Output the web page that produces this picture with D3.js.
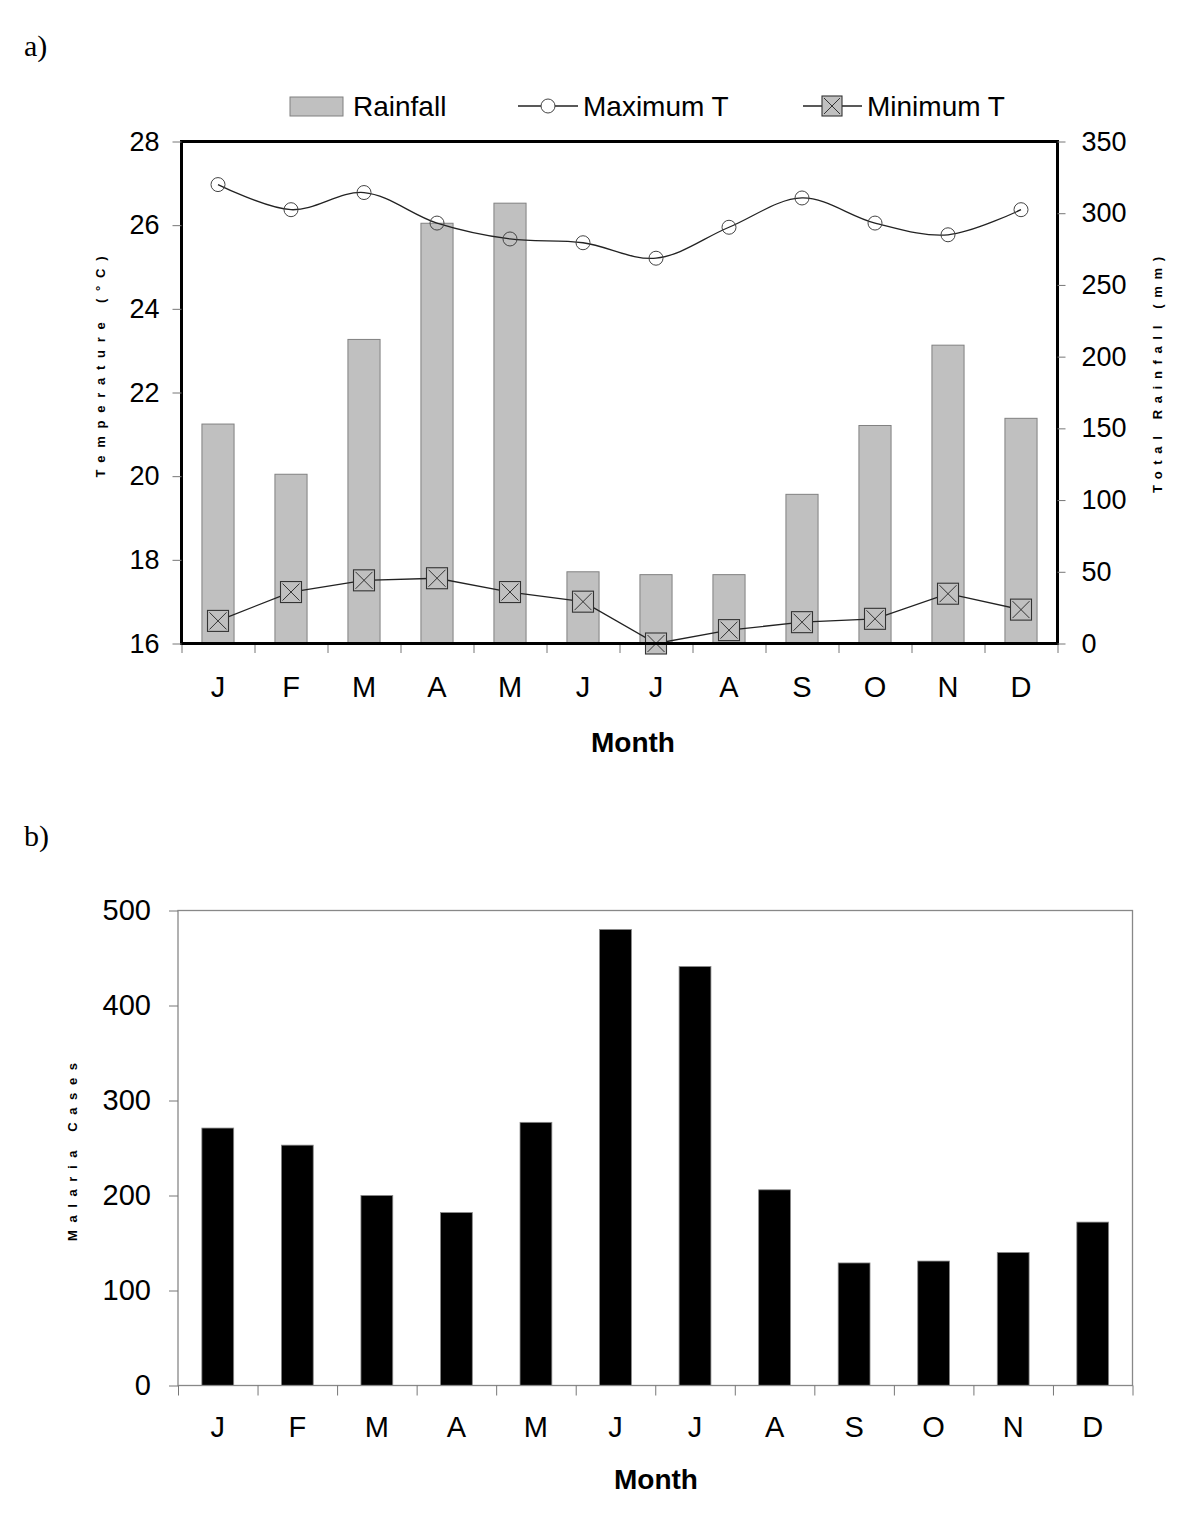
<!DOCTYPE html>
<html>
<head>
<meta charset="utf-8">
<script src="https://cdn.jsdelivr.net/npm/d3@7"></script>
<style>
  body { margin: 0; background: #fff; }
  svg { display: block; }
  text { font-family: "Liberation Sans", Arial, sans-serif; fill: #000; }
</style>
</head>
<body>
<div id="chart"></div>
<script>
// month labels (index-based domain because letters repeat)
const months = ['J', 'F', 'M', 'A', 'M', 'J', 'J', 'A', 'S', 'O', 'N', 'D'];

// panel a) climate
const rainfall = [153, 118, 212, 293, 307, 50, 48, 48, 104, 152, 208, 157];
const maxTemp = [26.97, 26.37, 26.78, 26.05, 25.67, 25.58, 25.21, 25.95, 26.65, 26.05, 25.77, 26.37];
const minTemp = [16.54, 17.23, 17.51, 17.56, 17.23, 17.0, 16.0, 16.32, 16.51, 16.59, 17.19, 16.81];
const tempTicks = [16, 18, 20, 22, 24, 26, 28];
const rainTicks = [0, 50, 100, 150, 200, 250, 300, 350];

// panel b) malaria
const malariaCases = [271, 253, 200, 182, 277, 480, 441, 206, 129, 131, 140, 172];
const caseTicks = [0, 100, 200, 300, 400, 500];

const W = 1200, H = 1514;
const idx = d3.range(months.length);

const svg = d3.select('#chart').append('svg')
  .attr('width', W)
  .attr('height', H);

// ---------- panel a ----------
const a = { left: 181.5, right: 1057.5, top: 141.5, bottom: 643.5 };

const xA = d3.scaleBand().domain(idx).range([a.left, a.right])
  .paddingInner(0.56).paddingOuter(0.28);
const xAEdge = d3.scaleLinear().domain([0, 12]).range([a.left, a.right]);
const yTemp = d3.scaleLinear().domain([16, 28]).range([a.bottom, a.top]);
const yRain = d3.scaleLinear().domain([0, 350]).range([a.bottom, a.top]);

svg.append('text')
  .attr('x', 24).attr('y', 56)
  .style('font-family', '"Liberation Serif", "Times New Roman", serif')
  .style('font-size', '30px')
  .text('a)');

const gA = svg.append('g').attr('class', 'panel-a');

gA.append('g')
  .selectAll('rect')
  .data(rainfall)
  .join('rect')
  .attr('x', (d, i) => xA(i))
  .attr('width', xA.bandwidth())
  .attr('y', d => yRain(d))
  .attr('height', d => yRain(0) - yRain(d))
  .attr('fill', '#c0c0c0')
  .attr('stroke', '#808080')
  .attr('stroke-width', 1);

const cx = i => xA(i) + xA.bandwidth() / 2;

// max temperature: smoothed line with open circles
const maxLine = d3.line()
  .curve(d3.curveCatmullRom.alpha(0.5))
  .x((d, i) => cx(i))
  .y(d => yTemp(d));

gA.append('path')
  .datum(maxTemp)
  .attr('d', maxLine)
  .attr('fill', 'none')
  .attr('stroke', '#222')
  .attr('stroke-width', 1.3);

gA.append('g')
  .selectAll('circle')
  .data(maxTemp)
  .join('circle')
  .attr('cx', (d, i) => cx(i))
  .attr('cy', d => yTemp(d))
  .attr('r', 7)
  .attr('fill', 'none')
  .attr('stroke', '#444')
  .attr('stroke-width', 1);

// min temperature: straight line with boxed crosses
const minLine = d3.line()
  .x((d, i) => cx(i))
  .y(d => yTemp(d));

gA.append('path')
  .datum(minTemp)
  .attr('d', minLine)
  .attr('fill', 'none')
  .attr('stroke', '#222')
  .attr('stroke-width', 1.3);

function boxCross(g, x, y, s) {
  const h = s / 2;
  g.append('rect')
    .attr('x', x - h).attr('y', y - h)
    .attr('width', s).attr('height', s)
    .attr('fill', '#c0c0c0')
    .attr('stroke', '#333')
    .attr('stroke-width', 1.1);
  const k = h - 2;
  g.append('path')
    .attr('d', `M${x - k},${y - k}L${x + k},${y + k}M${x + k},${y - k}L${x - k},${y + k}`)
    .attr('stroke', '#333')
    .attr('stroke-width', 1);
}

const minMarks = gA.append('g');
minTemp.forEach((d, i) => boxCross(minMarks, cx(i), yTemp(d), 21));

// frame
gA.append('rect')
  .attr('x', a.left).attr('y', a.top)
  .attr('width', a.right - a.left)
  .attr('height', a.bottom - a.top)
  .attr('fill', 'none')
  .attr('stroke', '#000')
  .attr('stroke-width', 3);

function styleAxis(g, size) {
  g.select('.domain').remove();
  g.selectAll('.tick line').attr('stroke', '#777').attr('stroke-width', 1);
  g.selectAll('.tick text')
    .style('font-size', size + 'px')
    .style('font-family', '"Liberation Sans", Arial, sans-serif')
    .attr('fill', '#000');
}

gA.append('g')
  .attr('transform', `translate(${a.left},0)`)
  .call(d3.axisLeft(yTemp).tickValues(tempTicks).tickSize(9).tickPadding(13))
  .call(g => styleAxis(g, 27));

gA.append('g')
  .attr('transform', `translate(${a.right},0)`)
  .call(d3.axisRight(yRain).tickValues(rainTicks).tickSize(8).tickPadding(16))
  .call(g => styleAxis(g, 27));

gA.append('g')
  .attr('transform', `translate(0,${a.bottom + 1.5})`)
  .call(d3.axisBottom(xAEdge).tickValues(d3.range(13)).tickFormat('').tickSize(8))
  .call(g => styleAxis(g, 27));

gA.append('g')
  .attr('transform', `translate(0,${a.bottom})`)
  .call(d3.axisBottom(xA).tickFormat(i => months[i]).tickSize(0).tickPadding(33))
  .call(g => styleAxis(g, 29));

gA.append('text')
  .attr('x', 633).attr('y', 752)
  .attr('text-anchor', 'middle')
  .style('font-size', '28px')
  .style('font-weight', 'bold')
  .text('Month');

gA.append('text')
  .attr('transform', 'translate(105,367) rotate(-90)')
  .attr('text-anchor', 'middle')
  .attr('textLength', 221)
  .attr('lengthAdjust', 'spacing')
  .style('font-size', '13px')
  .style('font-weight', 'bold')
  .text('Temperature (°C)');

gA.append('text')
  .attr('transform', 'translate(1162,375) rotate(-90)')
  .attr('text-anchor', 'middle')
  .attr('textLength', 236)
  .attr('lengthAdjust', 'spacing')
  .style('font-size', '13px')
  .style('font-weight', 'bold')
  .text('Total Rainfall (mm)');

// legend
const leg = gA.append('g').attr('class', 'legend');
leg.append('rect')
  .attr('x', 290).attr('y', 97).attr('width', 53).attr('height', 19)
  .attr('fill', '#c0c0c0').attr('stroke', '#808080');
leg.append('text').attr('x', 353).attr('y', 116).style('font-size', '28px').text('Rainfall');

leg.append('line')
  .attr('x1', 518).attr('x2', 578).attr('y1', 106).attr('y2', 106)
  .attr('stroke', '#222').attr('stroke-width', 1.3);
leg.append('circle')
  .attr('cx', 548).attr('cy', 106).attr('r', 7)
  .attr('fill', '#fff').attr('stroke', '#444');
leg.append('text').attr('x', 583).attr('y', 116).style('font-size', '28px').text('Maximum T');

leg.append('line')
  .attr('x1', 803).attr('x2', 862).attr('y1', 106).attr('y2', 106)
  .attr('stroke', '#222').attr('stroke-width', 1.3);
boxCross(leg, 832, 106, 20);
leg.append('text').attr('x', 867).attr('y', 116).style('font-size', '28px').text('Minimum T');

// ---------- panel b ----------
const b = { left: 178, right: 1132.5, top: 910.5, bottom: 1385.5 };

const xB = d3.scaleBand().domain(idx).range([b.left, b.right])
  .paddingInner(0.6).paddingOuter(0.3);
const xBEdge = d3.scaleLinear().domain([0, 12]).range([b.left, b.right]);
const yCases = d3.scaleLinear().domain([0, 500]).range([b.bottom, b.top]);

svg.append('text')
  .attr('x', 24).attr('y', 846)
  .style('font-family', '"Liberation Serif", "Times New Roman", serif')
  .style('font-size', '30px')
  .text('b)');

const gB = svg.append('g').attr('class', 'panel-b');

gB.append('g')
  .selectAll('rect')
  .data(malariaCases)
  .join('rect')
  .attr('x', (d, i) => xB(i))
  .attr('width', xB.bandwidth())
  .attr('y', d => yCases(d))
  .attr('height', d => yCases(0) - yCases(d))
  .attr('fill', '#000')
  .attr('stroke', '#888')
  .attr('stroke-width', 0.8);

// thin grey box around plot area
gB.append('rect')
  .attr('x', b.left).attr('y', b.top)
  .attr('width', b.right - b.left)
  .attr('height', b.bottom - b.top)
  .attr('fill', 'none')
  .attr('stroke', '#888')
  .attr('stroke-width', 1.3);

gB.append('g')
  .attr('transform', `translate(${b.left},0)`)
  .call(d3.axisLeft(yCases).tickValues(caseTicks).tickSize(9).tickPadding(18))
  .call(g => styleAxis(g, 29));

gB.append('g')
  .attr('transform', `translate(0,${b.bottom})`)
  .call(d3.axisBottom(xBEdge).tickValues(d3.range(13)).tickFormat('').tickSize(10))
  .call(g => styleAxis(g, 29));

gB.append('g')
  .attr('transform', `translate(0,${b.bottom})`)
  .call(d3.axisBottom(xB).tickFormat(i => months[i]).tickSize(0).tickPadding(31))
  .call(g => styleAxis(g, 29));

gB.append('text')
  .attr('x', 656).attr('y', 1489)
  .attr('text-anchor', 'middle')
  .style('font-size', '28px')
  .style('font-weight', 'bold')
  .text('Month');

gB.append('text')
  .attr('transform', 'translate(77,1152) rotate(-90)')
  .attr('text-anchor', 'middle')
  .attr('textLength', 178)
  .attr('lengthAdjust', 'spacing')
  .style('font-size', '13px')
  .style('font-weight', 'bold')
  .text('Malaria Cases');
</script>
</body>
</html>
